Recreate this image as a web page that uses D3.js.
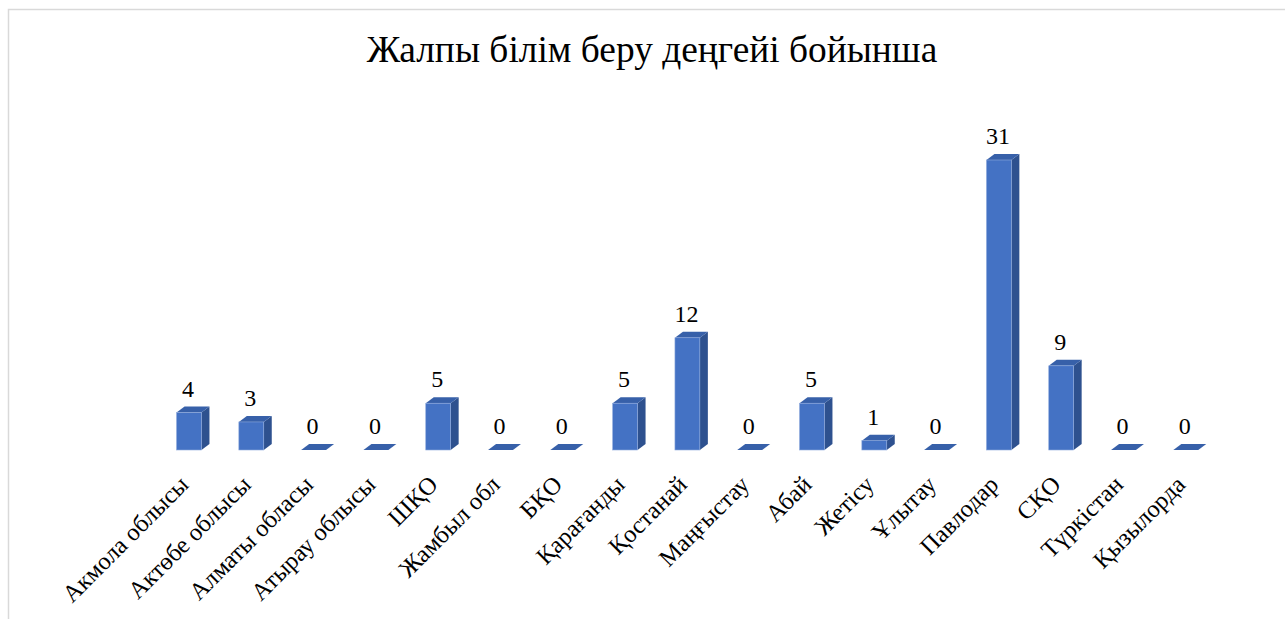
<!DOCTYPE html>
<html><head><meta charset="utf-8">
<script src="https://cdn.jsdelivr.net/npm/d3@7"></script>
<style>html,body{margin:0;padding:0;background:#fff;overflow:hidden}</style>
</head><body>
<svg id="chart" width="1285" height="619"></svg>
<script>
const categories = ["Акмола облысы","Актөбе облысы","Алматы обласы","Атырау облысы","ШҚО","Жамбыл обл","БҚО","Қарағанды","Қостанай","Маңғыстау","Абай","Жетісу","Ұлытау","Павлодар","СҚО","Түркістан","Қызылорда"];
const values = [4,3,0,0,5,0,0,5,12,0,5,1,0,31,9,0,0];
const title = "Жалпы білім беру деңгейі бойынша";

const svg = d3.select("#chart");
const font = "'Liberation Serif','Times New Roman',serif";

// frame
svg.append("path").attr("d","M8.5,619 L8.5,9.5 L1285,9.5").attr("fill","none").attr("stroke","#d9d9d9").attr("stroke-width",1.5);

svg.append("text").attr("x",652).attr("y",62).attr("text-anchor","middle")
  .attr("font-family",font).attr("font-size",37.4).attr("fill","#000").text(title);

const x = d3.scaleBand().domain(categories).range([157.85,1216.95]).paddingInner(0.6).paddingOuter(0.3);
const y = d3.scaleLinear().domain([0,31]).range([450,160]);
const dx = 8, dy = 6;
const bw = x.bandwidth();

const g = svg.append("g");
const bars = g.selectAll("g.bar").data(categories.map((c,i)=>({c,v:values[i]}))).join("g");
// side
bars.append("path").attr("fill","#2E518F").attr("d",d=>{
  const x1=x(d.c)+bw, yt=y(d.v), yb=y(0);
  return `M${x1},${yt} L${x1+dx},${yt-dy} L${x1+dx},${yb-dy} L${x1},${yb} Z`;
});
// top
bars.append("path").attr("fill","#3760A9").attr("d",d=>{
  const x0=x(d.c), x1=x0+bw, yt=y(d.v);
  return `M${x0},${yt} L${x0+dx},${yt-dy} L${x1+dx},${yt-dy} L${x1},${yt} Z`;
});
// front
bars.append("rect").attr("fill","#4472C4").attr("stroke","#8FAADC").attr("stroke-width",0.6)
  .attr("x",d=>x(d.c)).attr("y",d=>y(d.v)).attr("width",bw).attr("height",d=>y(0)-y(d.v));

// value labels
bars.append("text").attr("x",d=>x(d.c)+bw/2-1).attr("y",d=>y(d.v)-dy-10)
  .attr("text-anchor","middle").attr("font-family",font).attr("font-size",24).attr("fill","#000")
  .text(d=>d.v);

// category labels
g.selectAll("text.cat").data(categories).join("text").attr("class","cat")
  .attr("transform",d=>`translate(${x(d)+bw/2+1},${486}) rotate(-45)`)
  .attr("text-anchor","end").attr("font-family",font).attr("font-size",24.5).attr("fill","#000")
  .text(d=>d);
</script>
</body></html>
